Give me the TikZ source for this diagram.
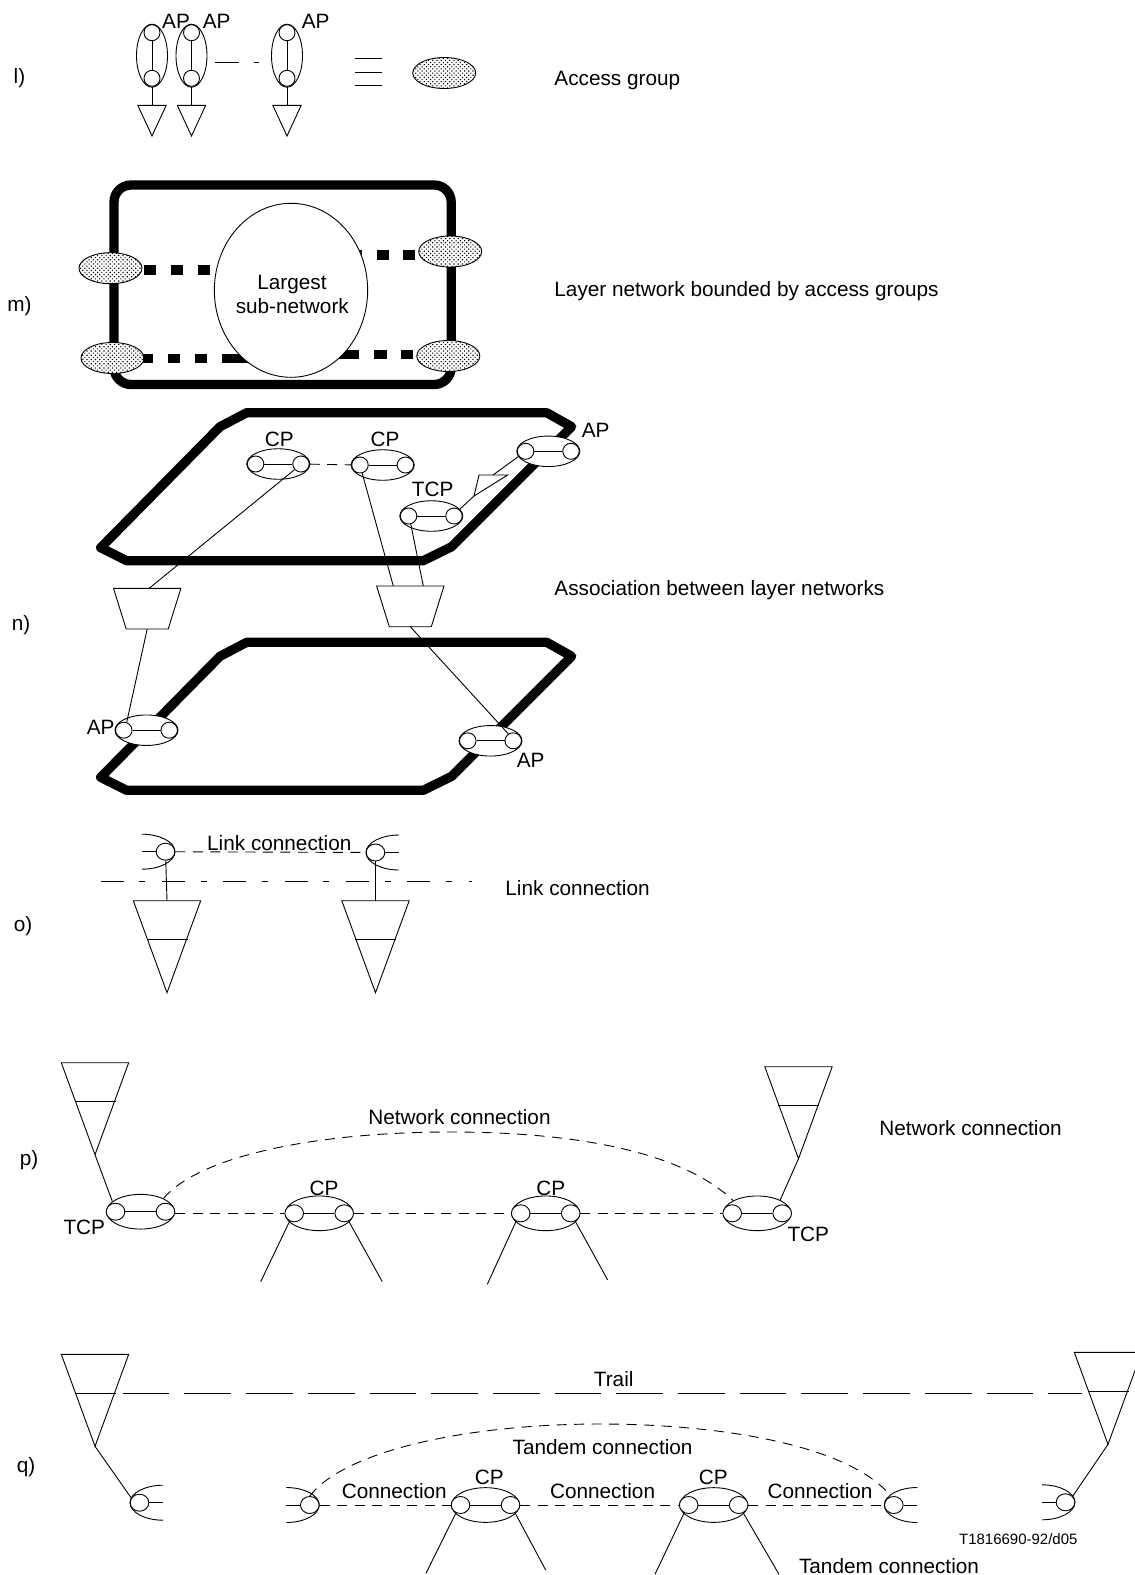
\documentclass[tikz,border=0pt]{standalone}
\usepackage{fontspec}
\setmainfont{Liberation Sans}
\usepackage{xcolor}
\usetikzlibrary{arrows.meta,positioning,calc,shapes.geometric,patterns.meta}
\tikzset{
  lbl/.style={font=\fontsize{20.75}{24}\selectfont,inner sep=0pt,text height=15pt,text depth=0pt,align=center},
  lbll/.style={lbl,anchor=west},
  lblsm/.style={lbl,font=\fontsize{15}{18}\selectfont,text height=11pt},
  pell/.style={draw,ellipse,fill=white,inner sep=0pt,minimum width=63pt,minimum height=30.5pt},
  pelldot/.style={draw,ellipse,fill=white,inner sep=0pt,minimum width=16.5pt,minimum height=16pt},
  qell/.style={draw,ellipse,fill=white,inner sep=0pt,minimum width=68pt,minimum height=34.7pt},
  qelldot/.style={draw,ellipse,fill=white,inner sep=0pt,minimum width=18.6pt,minimum height=17pt},
  vell/.style={draw,ellipse,inner sep=0pt,minimum width=31pt,minimum height=63pt},
  vdot/.style={draw,circle,fill=white,inner sep=0pt,minimum size=16pt},
  group/.style={draw,ellipse,preaction={fill=white},pattern={Dots[distance=3pt,radius=.8pt,angle=45]},
                pattern color=black,inner sep=0pt,minimum width=63pt,minimum height=31pt},
  bound/.style={line width=9.3pt,line join=round},
  conn/.style={dash pattern=on 10pt off 7.5pt},
}
% port pair: ellipse style, name, x, y, half distance of the two dots
\newcommand{\portpair}[5]{
  \node[#1] (#2) at (#3,#4) {};
  \node[#1dot] (#2l) at ([xshift=-#5pt]#2.center) {};
  \node[#1dot] (#2r) at ([xshift=#5pt]#2.center) {};
  \draw (#2l) -- (#2r);
}
% cut end: name, x and y of the apex, direction of the opening
\newcommand{\cupend}[4]{
  \begin{scope}[shift={(#2,#3)},xscale=#4]
    \draw (33,-17.5) .. controls (15,-17.5) and (0,-9.6) .. (0,0)
                     .. controls (0,9.6) and (15,17.5) .. (33,17.5);
    \node[qelldot] (#1) at (9.5,0) {};
    \coordinate (#1end) at (33,0);
    \draw (#1) -- (#1end);
  \end{scope}
}
\newcommand{\cone}[3]{
  \begin{scope}[shift={(#2,#3)}]
    \coordinate (#1top) at (0,0);
    \coordinate (#1mid) at (0,39);
    \coordinate (#1tip) at (0,92);
    \draw (-33.7,0) -- (33.7,0) -- (#1tip) -- cycle;
    \draw (-20.5,39) -- (20.5,39);
  \end{scope}
}
\newcommand{\trapz}[3]{
  \begin{scope}[shift={(#2,#3)}]
    \coordinate (#1top) at (0,0);
    \coordinate (#1bot) at (0,40.7);
    \draw (-33.7,0) -- (33.7,0) -- (21,40.7) -- (-21,40.7) -- cycle;
  \end{scope}
}
\newcommand{\plane}[1]{
  \draw[bound,shift={(0,#1)}] (246.7,412.7) -- (220,426.7) -- (100.7,547.7) -- (126.7,560.7)
    -- (423.3,560.7) -- (451.7,546.7) -- (571.7,426.7) -- (546.7,412.7) -- cycle;
}

\begin{document}
\begin{tikzpicture}[x=1pt,y=-1pt,line width=0.9pt]
  \useasboundingbox (0,0) rectangle (1135,1575);

  % l)
  \node[lbl] (itemL) at (19.5,76) {l)};
  \foreach \nm/\cx in {apa/152,apb/191.5,apc/287}{
    \node[vell] (\nm) at (\cx,55.7) {};
    \node[vdot] (\nm up) at (\cx,32.7) {};
    \node[vdot] (\nm dn) at (\cx,78.3) {};
    \draw (\nm up) -- (\nm dn);
    \coordinate (\nm top) at (\cx,105.3);
    \coordinate (\nm tip) at (\cx,136);
    \draw (\nm dn) -- (\nm top);
    \draw ([xshift=-14.2pt]\nm top) -- ([xshift=14.2pt]\nm top) -- (\nm tip) -- cycle;
  }
  \node[lbl] (apatxt) at (176,21) {AP};
  \node[lbl] (apbtxt) at (216.7,21) {AP};
  \node[lbl] (apctxt) at (315.7,21) {AP};
  \draw (215.3,62.7) -- (238.7,62.7);
  \draw (254,62.7) -- (258.7,62.7);
  \foreach \yy in {58.7,72,85.3}
    \draw (355.3,\yy) -- (381.7,\yy);
  \node[group] (accgroup) at (444.2,73) {};
  \node[lbll] (accesstxt) at (554,78.3) {Access group};

  % m)
  \node[lbl] (itemM) at (19.5,304) {m)};
  \node[lbll] (boundtxt) at (554,289) {Layer network bounded by access groups};
  \draw[bound,rounded corners=17pt] (114,185) rectangle (451.2,384.5);
  \coordinate (largestc) at (291,290.3);
  \node[group] (gnw) at (110.5,268.2) {};
  \node[group] (gne) at (450.2,251.5) {};
  \node[group] (gsw) at (112.5,358) {};
  \node[group] (gse) at (448.3,356) {};
  \draw[line width=9.5pt,dash pattern=on 0pt off 33.5pt on 12pt off 14.5pt on 12pt off 15pt on 12pt off 200pt]
    ([yshift=-1.6pt]gnw.center) -- ([yshift=-1.6pt]gnw.center -| largestc);
  \draw[line width=9.5pt,dash pattern=on 0pt off 35pt on 12pt off 14pt on 12pt off 15pt on 12pt off 200pt]
    ([yshift=-3.5pt]gne.center) -- ([yshift=-3.5pt]gne.center -| largestc);
  \draw[line width=9.5pt,dash pattern=on 0pt off 30.5pt on 10pt off 14.5pt on 12pt off 15pt on 12pt off 15pt on 200pt]
    ([yshift=-.7pt]gsw.center) -- ([yshift=-.7pt]gsw.center -| largestc);
  \draw[line width=9.5pt,dash pattern=on 0pt off 35pt on 12pt off 14pt on 13pt off 15pt on 200pt]
    ([yshift=1.3pt]gse.center) -- ([yshift=1.3pt]gse.center -| largestc);
  \node[draw,ellipse,fill=white,inner sep=0pt,minimum width=153.3pt,minimum height=174pt] (largest) at (largestc) {};
  \node[lbl] (largesttxt) at (292,281.7) {Largest};
  \node[lbl] (subnettxt) at (292.3,305.5) {sub-network};

  % n)
  \node[lbl] (itemN) at (21,622.7) {n)};
  \node[lbll] (assoctxt) at (554,587.6) {Association between layer networks};
  \plane{0}
  \plane{229.6}
  \portpair{pell}{cpa}{278.3}{464}{22.7}
  \portpair{pell}{cpb}{382.7}{465}{22.7}
  \portpair{pell}{tcpa}{431.3}{516}{22.7}
  \portpair{pell}{apu}{548.3}{451.3}{22.7}
  \portpair{pell}{apl}{146.5}{730.2}{22.7}
  \portpair{pell}{apr}{490.5}{740.8}{22.7}
  \trapz{trapa}{147.2}{588.3}
  \trapz{trapb}{410.3}{586}
  \draw[conn] (cpar) -- (cpbl);
  \draw (cpar.221) -- ([xshift=2pt]trapatop);
  \draw (cpbl.285) -- ([xshift=-17pt]trapbtop);
  \draw (tcpal.285) -- ([xshift=13pt]trapbtop);
  \coordinate (smalla) at (479,475);
  \coordinate (smallb) at (507.7,475);
  \coordinate (smallc) at (474,496);
  \draw (smalla) -- (smallb) -- (smallc) -- cycle;
  \draw (tcpar.50) -- (smallc);
  \draw ([xshift=14pt]smalla) -- (apul);
  \draw (trapabot) -- (apll.70);
  \draw (trapbbot) -- (aprr.125);
  \node[lbl] (cpatxt) at (279.3,439) {CP};
  \node[lbl] (cpbtxt) at (385,439) {CP};
  \node[lbl] (tcpatxt) at (432.7,489.3) {TCP};
  \node[lbl] (aputxt) at (595.6,430) {AP};
  \node[lbl] (apltxt) at (100.7,727.3) {AP};
  \node[lbl] (aprtxt) at (530.7,760) {AP};

  % o)
  \node[lbl] (itemO) at (23,924) {o)};
  \node[lbll] (linktxt) at (505,888) {Link connection};
  \cupend{lka}{175}{851.7}{-1}
  \cupend{lkb}{366}{852.5}{1}
  \cone{cna}{167}{900.7}
  \cone{cnb}{375.5}{900.7}
  \draw (lka) -- (cnatop);
  \draw (lkb) -- (cnbtop);
  \draw[conn] (lka) -- (lkb);
  \coordinate (odasha) at (100.7,881);
  \coordinate (odashb) at (472.3,881);
  \draw[dash pattern=on 23pt off 15.7pt on 6pt off 16.6pt] (odasha) -- (odashb);
  \node[lbl] (linklbl) at (279.3,843.3) {Link connection};

  % p)
  \node[lbl] (itemP) at (29,1158) {p)};
  \node[lbll] (nettxt) at (879,1128) {Network connection};
  \cone{cnc}{95}{1062.7}
  \cone{cnd}{798.5}{1066.7}
  \portpair{qell}{tcpb}{140.5}{1211.7}{25}
  \portpair{qell}{cpc}{319.2}{1213.3}{25}
  \portpair{qell}{cpd}{545.7}{1213.3}{25}
  \portpair{qell}{tcpc}{757.2}{1213.3}{25}
  \draw (cnctip) -- (tcpb.160);
  \draw (cndtip) -- (tcpc.30);
  \draw[conn] (tcpbr.east |- cpcl) -- (cpcl);
  \draw[conn] (cpcr) -- (cpdl);
  \draw[conn] (cpdr) -- (tcpcl);
  \draw[conn] (tcpb.30) .. controls (200,1155) and (320,1132) .. (450,1132)
    .. controls (570,1132) and (680,1150) .. (tcpc.152);
  \coordinate (cutca) at (260.7,1281.7);
  \coordinate (cutcb) at (382.3,1281.7);
  \coordinate (cutda) at (487.3,1284.3);
  \coordinate (cutdb) at (607.7,1280);
  \draw (cpcl.240) -- (cutca);
  \draw (cpcr.300) -- (cutcb);
  \draw (cpdl.240) -- (cutda);
  \draw (cpdr.300) -- (cutdb);
  \node[lbl] (netlbl) at (459.5,1116.7) {Network connection};
  \node[lbl] (cpctxt) at (324,1188.3) {CP};
  \node[lbl] (cpdtxt) at (550.7,1187.7) {CP};
  \node[lbl] (tcpbtxt) at (84.3,1226.7) {TCP};
  \node[lbl] (tcpctxt) at (808.3,1234) {TCP};

  % q)
  \node[lbl] (itemQ) at (26,1465) {q)};
  \cone{cne}{95}{1354.3}
  \cone{cnf}{1108}{1352.3}
  \cupend{tra}{130}{1502.7}{1}
  \cupend{trb}{319.3}{1505}{-1}
  \cupend{trc}{884.3}{1505}{1}
  \cupend{trd}{1075}{1502.3}{-1}
  \portpair{qell}{cpe}{485.5}{1505}{25}
  \portpair{qell}{cpf}{713.7}{1505}{25}
  \draw (cnetip) -- (tra.150);
  \draw (cnftip) -- (trd.40);
  \draw[dash pattern=on 46.7pt off 15pt] ([xshift=27.7pt]cnemid) -- ([xshift=-26.5pt]cnemid -| cnfmid);
  \draw[conn] (trb) -- (cpel);
  \draw[conn] (cper) -- (cpfl);
  \draw[conn] (cpfr) -- (trc);
  \draw[conn] (trb.90) .. controls (345,1450) and (470,1424) .. (600,1424)
    .. controls (720,1424) and (850,1445) .. (trc.108);
  \coordinate (cutea) at (426,1573.3);
  \coordinate (cuteb) at (545.7,1570);
  \coordinate (cutfa) at (655,1574.3);
  \coordinate (cutfb) at (779,1574.3);
  \draw (cpel.240) -- (cutea);
  \draw (cper.300) -- (cuteb);
  \draw (cpfl.240) -- (cutfa);
  \draw (cpfr.300) -- (cutfb);
  \node[lbl] (traillbl) at (613.7,1379) {Trail};
  \node[lbl] (tandemlbl) at (602.6,1447.4) {Tandem connection};
  \node[lbl] (connlbla) at (394.3,1491) {Connection};
  \node[lbl] (connlblb) at (602.6,1491) {Connection};
  \node[lbl] (connlblc) at (820,1491) {Connection};
  \node[lbl] (cpetxt) at (489.3,1477.3) {CP};
  \node[lbl] (cpftxt) at (713.3,1477.3) {CP};
  \node[lblsm] (codetxt) at (1018.3,1539) {T1816690-92/d05};
  \node[lbl] (tandemtxt) at (889,1566) {Tandem connection};
\end{tikzpicture}
\end{document}
